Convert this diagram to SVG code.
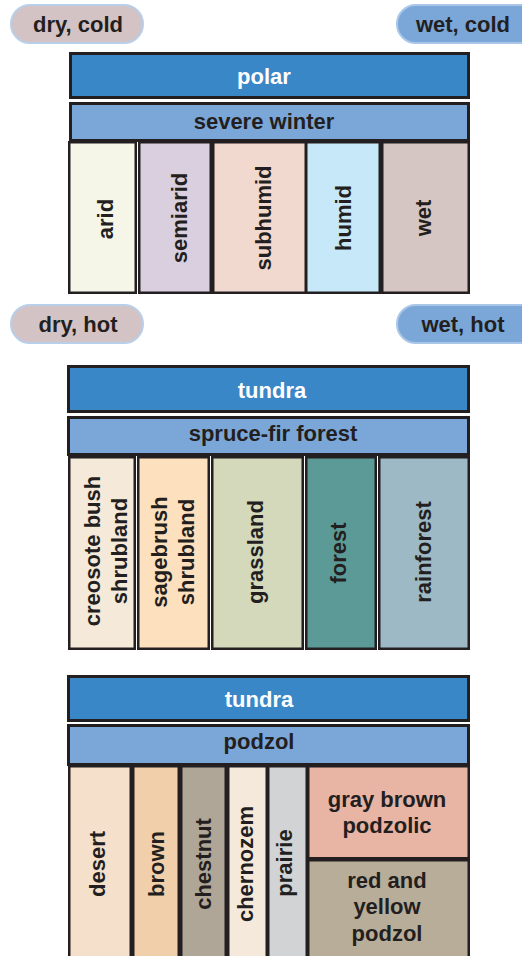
<svg xmlns="http://www.w3.org/2000/svg" width="522" height="956" viewBox="0 0 522 956">
<style>
text{font-family:"Liberation Sans",Arial,sans-serif;font-weight:bold;font-size:22px;fill:#231f20;text-anchor:middle}
.w{fill:#ffffff}
.bar{fill:#3a87c8;stroke:#231f20;stroke-width:3}
.sub{fill:#7aa7d8;stroke:#231f20;stroke-width:3}
.col{stroke:#231f20;stroke-width:2.5}
.pd{fill:#d3c3c4;stroke:#b7cfea;stroke-width:2}
.pw{fill:#7aa7d8;stroke:#a9c6e9;stroke-width:2}
</style>
<rect width="522" height="956" fill="#ffffff"/>
<g id="pill-dry-cold"><rect class="pd" x="11" y="5" width="132" height="38" rx="19"/><text x="78" y="32">dry, cold</text></g>
<g id="pill-wet-cold"><rect class="pw" x="397" y="5" width="145" height="38" rx="19"/><text x="463" y="32">wet, cold</text></g>
<g id="pill-dry-hot"><rect class="pd" x="11" y="305" width="132" height="38" rx="19"/><text x="78" y="332">dry, hot</text></g>
<g id="pill-wet-hot"><rect class="pw" x="397" y="305" width="145" height="38" rx="19"/><text x="463" y="332">wet, hot</text></g>

<g id="polar"><rect class="bar" x="70.5" y="53.5" width="398" height="44"/><text class="w" x="264" y="84">polar</text></g>
<g id="severe-winter"><rect class="sub" x="70.5" y="103.5" width="398" height="37"/><text x="264" y="129">severe winter</text></g>
<g id="arid"><rect class="col" fill="#f5f6e8" x="69.25" y="142.25" width="66.5" height="150.5"/><text transform="translate(113,219) rotate(-90)">arid</text></g>
<g id="semiarid"><rect class="col" fill="#d9cfde" x="139.25" y="142.25" width="71.5" height="150.5"/><text transform="translate(187,218) rotate(-90)">semiarid</text></g>
<g id="subhumid"><rect class="col" fill="#f2d9cf" x="213.25" y="142.25" width="92.5" height="150.5"/><text transform="translate(271,218) rotate(-90)">subhumid</text></g>
<g id="humid"><rect class="col" fill="#c7e8f8" x="306.25" y="142.25" width="73.5" height="150.5"/><text transform="translate(351,218) rotate(-90)">humid</text></g>
<g id="wet"><rect class="col" fill="#d6c6c3" x="382.25" y="142.25" width="86.5" height="150.5"/><text transform="translate(431,218) rotate(-90)">wet</text></g>

<g id="tundra-1"><rect class="bar" x="68.5" y="366.5" width="400" height="45"/><text class="w" x="272" y="398">tundra</text></g>
<g id="spruce-fir"><rect class="sub" x="68.5" y="417.5" width="400" height="37"/><text x="273" y="441">spruce-fir forest</text></g>
<g id="creosote"><rect class="col" fill="#f5e9da" x="69.25" y="457.25" width="65.5" height="191.5"/><text transform="translate(100,551) rotate(-90)">creosote bush</text><text transform="translate(127,551) rotate(-90)">shrubland</text></g>
<g id="sagebrush"><rect class="col" fill="#fde0bd" x="138.25" y="457.25" width="70.5" height="191.5"/><text transform="translate(167,552) rotate(-90)">sagebrush</text><text transform="translate(194,552) rotate(-90)">shrubland</text></g>
<g id="grassland"><rect class="col" fill="#d4d9bb" x="212.25" y="457.25" width="90.5" height="191.5"/><text transform="translate(263,552) rotate(-90)">grassland</text></g>
<g id="forest"><rect class="col" fill="#5b9a96" x="306.25" y="457.25" width="69.5" height="191.5"/><text transform="translate(346,553) rotate(-90)">forest</text></g>
<g id="rainforest"><rect class="col" fill="#9db9c5" x="379.25" y="457.25" width="89.5" height="191.5"/><text transform="translate(431,552) rotate(-90)">rainforest</text></g>

<g id="tundra-2"><rect class="bar" x="68.5" y="676.5" width="400" height="44"/><text class="w" x="259" y="707">tundra</text></g>
<g id="podzol"><rect class="sub" x="68.5" y="725.5" width="400" height="39"/><text x="259" y="749">podzol</text></g>
<g id="desert"><rect class="col" fill="#f5e0cb" x="69.25" y="766.25" width="61.5" height="195"/><text transform="translate(105,864) rotate(-90)">desert</text></g>
<g id="brown"><rect class="col" fill="#f2cfab" x="133.25" y="766.25" width="45.5" height="195"/><text transform="translate(164,864) rotate(-90)">brown</text></g>
<g id="chestnut"><rect class="col" fill="#b0a698" x="181.25" y="766.25" width="44.5" height="195"/><text transform="translate(211,864) rotate(-90)">chestnut</text></g>
<g id="chernozem"><rect class="col" fill="#f5e9dc" x="228.25" y="766.25" width="38.5" height="195"/><text transform="translate(253,864) rotate(-90)">chernozem</text></g>
<g id="prairie"><rect class="col" fill="#d1d3d4" x="268.25" y="766.25" width="38.5" height="195"/><text transform="translate(292,863) rotate(-90)">prairie</text></g>
<g id="gray-brown-podzolic"><rect class="col" fill="#e8b4a4" x="308.25" y="766.25" width="160.5" height="92"/><text x="387" y="807">gray brown</text><text x="387" y="833">podzolic</text></g>
<g id="red-yellow-podzol"><rect class="col" fill="#b8ad98" x="308.25" y="860.25" width="160.5" height="101"/><text x="387" y="888">red and</text><text x="387" y="914">yellow</text><text x="387" y="941">podzol</text></g>
<g id="connectors"></g>
</svg>
